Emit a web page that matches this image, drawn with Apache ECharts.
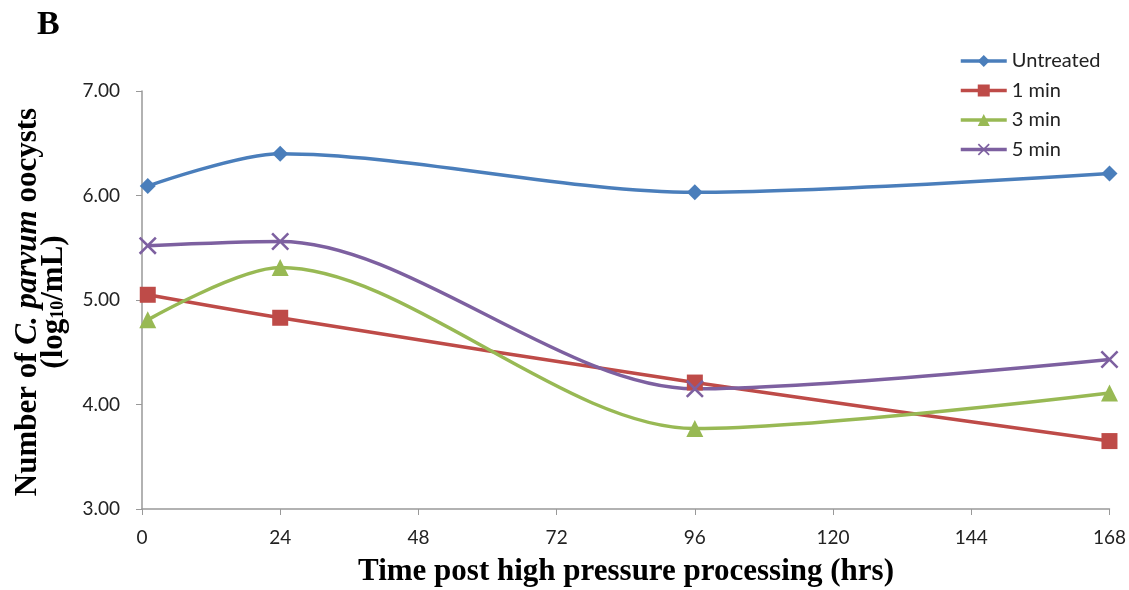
<!DOCTYPE html>
<html>
<head>
    <meta charset="utf-8">
    <script type="text/javascript" src="https://cdn.jsdelivr.net/npm/echarts@6/dist/echarts.min.js"></script>
    <style type="text/css">
        *{
            margin: 0;
            padding: 0;
        }
        #main{
            width: 1129px;
            height: 590px;
        }
    </style>
</head>
<body>
<div id="main"></div>
<script type="text/javascript">
    // hours after processing
    var hours = [1, 24, 96, 168];
    var seriesNames = ['Untreated', '1 min', '3 min', '5 min'];
    var untreated = [6.09, 6.40, 6.03, 6.21];
    var oneMin = [5.05, 4.83, 4.21, 3.65];
    var threeMin = [4.81, 5.31, 3.77, 4.11];
    var fiveMin = [5.52, 5.56, 4.15, 4.43];
    var colors = ['#4A7EBB', '#BE4B48', '#98B954', '#7D60A0'];

    function pairs(vals) {
        return hours.map(function (h, i) { return [h, vals[i]]; });
    }

    var crossPath = 'path://M0,1 L1,0 L5,4 L9,0 L10,1 L6,5 L10,9 L9,10 L5,6 L1,10 L0,9 L4,5 Z';
    var symbols = ['diamond', 'rect', 'triangle', crossPath];
    var sizes = [16, 16, 17, 18];
    var allData = [untreated, oneMin, threeMin, fiveMin];

    var tickFont = 'Lato, "Open Sans", sans-serif';
    var titleFont = '"Liberation Serif", "DejaVu Serif", serif';

    var myChart = echarts.init(document.getElementById('main'));
    var option = {
        animation: false,
        color: colors,
        grid: {
            left: 142,
            right: 16,
            top: 91,
            bottom: 81
        },
        legend: {
            orient: 'vertical',
            left: 954,
            top: 46,
            itemWidth: 46,
            itemHeight: 15,
            itemGap: 9.5,
            lineStyle: {width: 3.5},
            textStyle: {
                fontFamily: tickFont,
                fontSize: 20,
                color: '#222'
            },
            data: seriesNames
        },
        xAxis: {
            type: 'value',
            min: 0,
            max: 168,
            interval: 24,
            splitLine: {show: false},
            axisLine: {lineStyle: {color: '#999', width: 1.5}},
            axisTick: {show: true, length: 6, lineStyle: {color: '#999'}},
            axisLabel: {
                margin: 19,
                fontFamily: tickFont,
                fontSize: 19,
                color: '#222'
            }
        },
        yAxis: {
            type: 'value',
            min: 3,
            max: 7,
            interval: 1,
            splitLine: {show: false},
            axisLine: {show: true, lineStyle: {color: '#999', width: 1.5}},
            axisTick: {show: true, length: 6, lineStyle: {color: '#999'}},
            axisLabel: {
                margin: 22,
                fontFamily: tickFont,
                fontSize: 19,
                color: '#222',
                formatter: function (v) { return v.toFixed(2); }
            }
        },
        graphic: [
            {
                type: 'text',
                left: 37,
                top: 8,
                style: {
                    text: 'B',
                    font: 'bold 34px ' + titleFont,
                    fill: '#000'
                }
            },
            {
                type: 'text',
                x: 626,
                y: 572,
                style: {
                    text: 'Time post high pressure processing (hrs)',
                    font: 'bold 31px ' + titleFont,
                    fill: '#000',
                    align: 'center',
                    verticalAlign: 'middle'
                }
            },
            {
                type: 'text',
                x: 41,
                y: 302,
                rotation: Math.PI / 2,
                style: {
                    text: '{b|Number of }{i|C. parvum}{b| oocysts}\n{b|(log}{s|10}{b|/mL)}',
                    align: 'center',
                    verticalAlign: 'middle',
                    lineHeight: 26,
                    fill: '#000',
                    rich: {
                        b: {font: 'bold 31px ' + titleFont, fill: '#000', lineHeight: 26},
                        i: {font: 'italic bold 31px ' + titleFont, fill: '#000', lineHeight: 26},
                        s: {font: 'bold 18px ' + titleFont, fill: '#000', verticalAlign: 'bottom', lineHeight: 20}
                    }
                }
            }
        ],
        series: seriesNames.map(function (name, k) {
            return {
                name: name,
                type: 'line',
                smooth: 0.3,
                symbol: symbols[k],
                symbolSize: sizes[k],
                lineStyle: {width: 3.5, color: colors[k]},
                itemStyle: {color: colors[k]},
                data: pairs(allData[k])
            };
        })
    };
    myChart.setOption(option);
</script>
</body>
</html>
